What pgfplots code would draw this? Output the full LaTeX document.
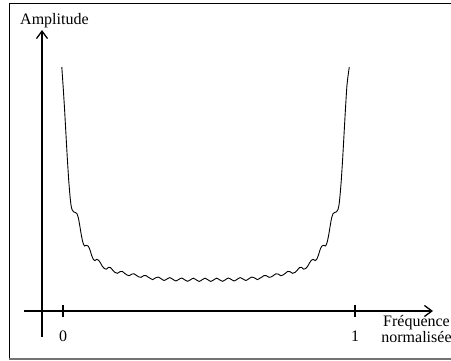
\documentclass[border=0pt]{standalone}
\usepackage{fontspec}
\setmainfont{Liberation Serif}
\usepackage{pgfplots}
\pgfplotsset{compat=1.18}
\usetikzlibrary{arrows.meta}
\begin{document}
\fontsize{16}{18}\selectfont
\begin{tikzpicture}
\useasboundingbox (0,0) rectangle (451pt,360pt);
\draw[line width=1pt] (9.3pt,1.5pt) rectangle (470pt,357pt);
\draw[line width=2pt, black!55] (8.8pt,1.5pt) -- (470pt,1.5pt);
\begin{axis}[
  at={(24pt,23pt)}, anchor=south west,
  scale only axis, width=409pt, height=307pt,
  xmin=-18, xmax=391, ymin=-26, ymax=281,
  axis lines=middle,
  axis line style={line width=1.3pt, -{Straight Barb[length=7.5pt,width=11pt]}},
  xtick={21,313}, xticklabels={0,1},
  ytick=\empty,
  major tick length=12pt, tick align=center,
  tick style={line width=1.3pt, black},
  xticklabel style={font=\fontsize{16}{18}\selectfont, anchor=base, yshift=-24pt, inner sep=0pt},
  /pgf/number format/assume math mode=true,
  clip=false,
]
\addplot[black, line width=0.9pt, smooth, tension=0.35] coordinates {
(19.8,244) (21.3,222) (22.6,201) (24,176) (25.3,153) (26.7,131) (28,115) (29,106) (30,101.5)
(31.5,99.2) (33.5,98.5) (35,97.2) (36.5,92.5) (38,84) (39.5,75) (41,68.2) (42.5,65)
(44.3,65.7) (46.3,64.8) (48,61) (49.7,55.5) (51.3,51.7) (52.8,50.4) (54.8,51.7) (56.7,50.7)
(58.6,47.8) (60.5,44.5) (62.5,42.4) (64.3,41.8) (66.5,43.6) (68.5,43.4) (70.6,41) (73,38.6)
(75.4,37.7) (77.9,39.3) (80.2,39.6) (82.6,37.7) (85,36) (87.2,35.3) (89.8,36.9) (92.1,37.2)
(94.5,35.5) (96.8,34.1) (99,33.7) (101.6,35.3) (104,35.4) (106.3,33.8) (108.5,32.5) (110.6,31.4)
(113.3,33) (116.2,33.9) (119.1,32.3) (122.1,30.5) (125,32) (127.9,33.4) (130.8,31.7) (133.8,30)
(136.7,31.5) (139.6,33) (142.5,31.3) (145.5,29.7) (148.4,31.2) (151.3,32.8) (154.2,31.2) (157.2,29.6)
(160.1,31.2) (163,32.8)
(165.9,31.2) (168.8,29.6) (171.8,31.2) (174.7,32.8) (177.6,31.2) (180.5,29.7) (183.5,31.3) (186.4,33)
(189.3,31.5) (192.2,30) (195.2,31.7) (198.1,33.4) (201,32) (203.9,30.5) (206.9,32.3) (209.8,33.9)
(212.7,33) (215.4,31.4) (217.5,32.5) (219.7,33.8) (222,35.4) (224.4,35.3) (227,33.7) (229.2,34.1)
(231.5,35.5) (233.9,37.2) (236.2,36.9) (238.8,35.3) (241,36) (243.4,37.7) (245.8,39.6) (248.1,39.3)
(250.6,37.7) (253,38.6) (255.4,41) (257.5,43.4) (259.5,43.6) (261.7,41.8) (263.5,42.4) (265.5,44.5)
(267.4,47.8) (269.3,50.7) (271.2,51.7) (273.2,50.4) (274.7,51.7) (276.3,55.5) (278,61) (279.7,64.8)
(281.7,65.7) (283.5,65) (285,68.2) (286.5,75) (288,84) (289.5,92.5) (291,97.2) (292.5,98.5)
(294.5,99.2) (296,101.5) (297,106) (298,115) (299.3,131) (300.7,153) (302,176) (303.4,201)
(304.9,225) (306.3,237) (307.3,244)
};
\end{axis}
\node[anchor=base west, inner sep=0pt] at (20pt,336pt) {Amplitude};
\node[anchor=base, inner sep=0pt] at (416.5pt,34pt) {Fréquence};
\node[anchor=base, inner sep=0pt] at (416.5pt,18pt) {normalisée};
\end{tikzpicture}
\end{document}
